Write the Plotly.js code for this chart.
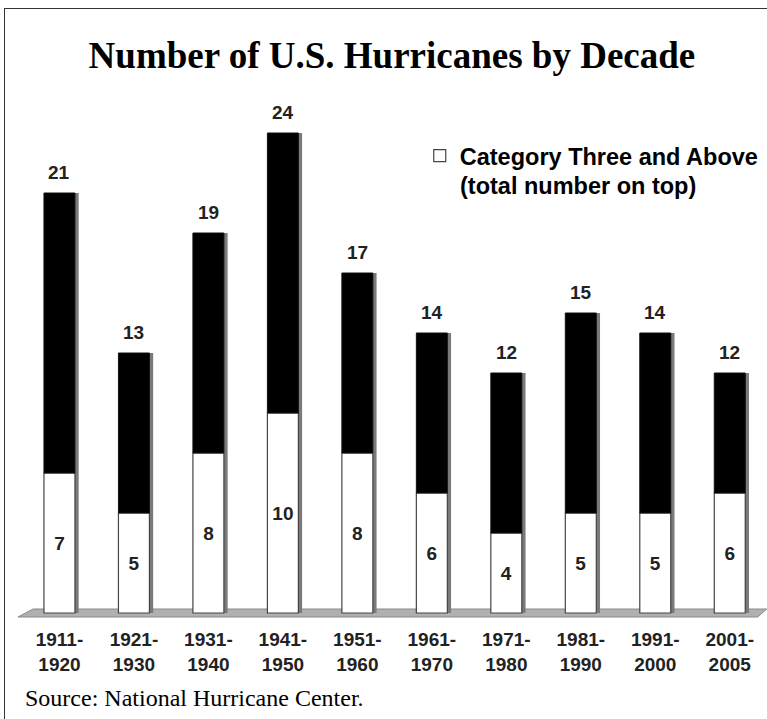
<!DOCTYPE html>
<html>
<head>
<meta charset="utf-8">
<script src="https://cdn.plot.ly/plotly-3.0.1.min.js"></script>
<style>
  html, body { margin: 0; padding: 0; background: #fff; }
  #wrap { position: relative; width: 767px; height: 719px; }
  #chart { width: 767px; height: 719px; }
  #frame { position: absolute; left: 4px; top: 8px; width: 763px; height: 711px;
           border-left: 1.5px solid #333; border-top: 1.5px solid #333;
           box-sizing: border-box; pointer-events: none; }
</style>
</head>
<body>
<div id="wrap">
  <div id="chart"></div>
  <div id="frame"></div>
</div>
<script>
// ---- data ----
const categories = ["1911-1920","1921-1930","1931-1940","1941-1950","1951-1960",
                    "1961-1970","1971-1980","1981-1990","1991-2000","2001-2005"];
const tickLabels = ["1911-<br>1920","1921-<br>1930","1931-<br>1940","1941-<br>1950","1951-<br>1960",
                    "1961-<br>1970","1971-<br>1980","1981-<br>1990","1991-<br>2000","2001-<br>2005"];
const totalHurricanes = [21, 13, 19, 24, 17, 14, 12, 15, 14, 12];
const categoryThreePlus = [7, 5, 8, 10, 8, 6, 4, 5, 5, 6];

const titleText = "Number of U.S. Hurricanes by Decade";
const legendName = "Category Three and Above";
const legendNote = "(total number on top)";
const sourceText = "Source: National Hurricane Center.";

// ---- derived ----
const idx = categories.map((_, i) => i);
const upperPart = totalHurricanes.map((t, i) => t - categoryThreePlus[i]);

const SANS = "Liberation Sans, Arial, sans-serif";
const SERIF = "Liberation Serif, Times New Roman, serif";

const BAR_W = 0.416;

const shadow = {
  type: "bar", x: idx, y: totalHurricanes, base: 0,
  width: 0.06, offset: BAR_W / 2 - 0.01,
  marker: { color: "#7a7a7a", line: { width: 0 } },
  showlegend: false, hoverinfo: "skip"
};
const lower = {
  type: "bar", x: idx, y: categoryThreePlus, base: 0,
  width: BAR_W, offset: -BAR_W / 2,
  name: legendName,
  marker: { color: "#ffffff", line: { color: "#444", width: 1.2 } },
  text: categoryThreePlus.map(String),
  textposition: "inside", insidetextanchor: "middle", textangle: 0,
  textfont: { family: SANS, size: 19, weight: "bold", color: "#222" },
  showlegend: true
};
const upper = {
  type: "bar", x: idx, y: upperPart, base: categoryThreePlus,
  width: BAR_W, offset: -BAR_W / 2,
  marker: { color: "#000000", line: { color: "#111", width: 1 } },
  showlegend: false
};

const annotations = idx.map(i => ({
  x: i, y: totalHurricanes[i], xref: "x", yref: "y",
  text: String(totalHurricanes[i]), showarrow: false,
  yanchor: "middle", yshift: 21,
  font: { family: SANS, size: 19, weight: "bold", color: "#222" }
}));
annotations.push({
  xref: "paper", yref: "paper", x: 0.588, y: 0.8465, xanchor: "left", yanchor: "middle",
  text: legendNote, showarrow: false,
  font: { family: SANS, size: 23.5, weight: "bold", color: "#000" }
});
annotations.push({
  xref: "paper", yref: "paper", x: 0.008, y: -0.152, xanchor: "left", yanchor: "middle",
  text: sourceText, showarrow: false,
  font: { family: SERIF, size: 24, color: "#000" }
});

const layout = {
  width: 767, height: 719,
  margin: { l: 17, r: 0, t: 107, b: 99, autoexpand: false },
  paper_bgcolor: "#fff", plot_bgcolor: "#fff",
  barmode: "overlay",
  hovermode: false,
  title: {
    text: titleText, xref: "container", yref: "container",
    x: 0.511, y: 0.9235, xanchor: "center", yanchor: "middle",
    font: { family: SERIF, size: 37, weight: "bold", color: "#000" }
  },
  xaxis: {
    range: [-0.57, 9.5], tickvals: idx, ticktext: tickLabels, tickangle: 0,
    showgrid: false, zeroline: false, showline: false, ticks: "",
    tickfont: { family: SANS, size: 19, weight: "bold", color: "#222" },
    ticklabelstandoff: 6, fixedrange: true, automargin: false
  },
  yaxis: { range: [-0.35, 25.3], visible: false, fixedrange: true, automargin: false },
  showlegend: true,
  legend: {
    xref: "paper", yref: "paper", x: 0.537, y: 0.9475,
    xanchor: "left", yanchor: "top",
    bgcolor: "rgba(0,0,0,0)", borderwidth: 0,
    font: { family: SANS, size: 23.5, weight: "bold", color: "#000" }
  },
  shapes: [
    { type: "path", xref: "x", yref: "y", layer: "below",
      path: "M -0.557,-0.2 L -0.355,0.2 L 9.497,0.2 L 9.376,-0.2 Z",
      fillcolor: "#b0b0b0", line: { color: "#8a8a8a", width: 1 } }
  ],
  annotations: annotations
};

Plotly.newPlot("chart", [shadow, lower, upper], layout, { displayModeBar: false, staticPlot: true });
</script>
</body>
</html>
